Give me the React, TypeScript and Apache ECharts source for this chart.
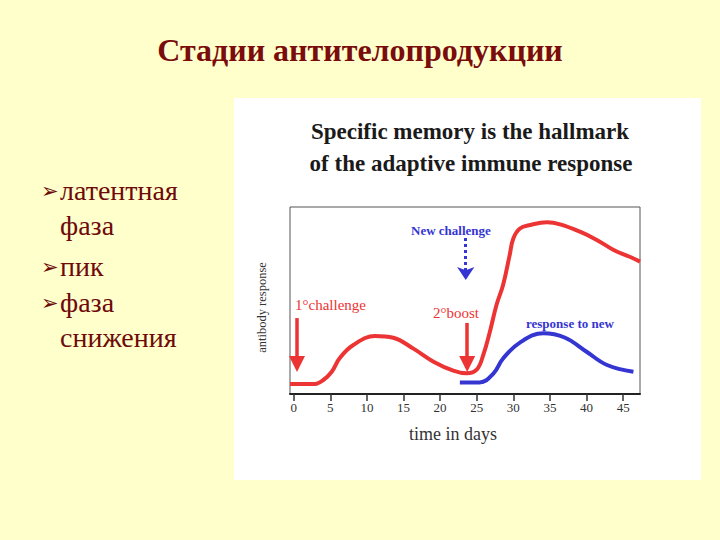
import React, { useEffect, useRef } from "react";
import * as echarts from "echarts";

// ---- data ----
const TITLE = "Стадии антителопродукции";
const BULLETS = [
  { text: "латентная", y: 190, arrow: true },
  { text: "фаза", y: 225, arrow: false },
  { text: "пик", y: 266, arrow: true },
  { text: "фаза", y: 302, arrow: true },
  { text: "снижения", y: 337, arrow: false },
];
const SUBTITLE_1 = "Specific memory is the hallmark";
const SUBTITLE_2 = "of the adaptive immune response";
const X_NAME = "time in days";
const Y_NAME = "antibody response";
const TICKS = [0, 5, 10, 15, 20, 25, 30, 35, 40, 45];

// primary + secondary (boost) response, red
const DAYS_RED = [-0.5, 2.7, 4.05, 5.2, 6.3, 8.15, 11.1, 13.6, 16.3, 19.1, 21.8, 23.6, 25.0, 25.9, 26.8, 27.7, 28.6, 29.5, 30.0, 30.9, 32.3, 34.6, 36.4, 39.1, 41.4, 43.7, 45.9, 47.3];
const RESP_RED = [5.3, 5.3, 7.5, 11.9, 19.3, 26.2, 31.0, 30.1, 24.4, 17.3, 12.5, 11.1, 13.0, 20.9, 33.3, 47.6, 58.3, 74.3, 83.2, 88.5, 90.4, 91.8, 90.7, 86.8, 82.4, 77.0, 73.4, 70.8];

// response to new antigen, blue
const DAYS_BLUE = [22.7, 25.4, 27.3, 28.6, 30.9, 34.1, 37.0, 40.0, 42.8, 46.4];
const RESP_BLUE = [6.2, 6.2, 11.0, 19.0, 27.5, 32.5, 30.2, 22.6, 15.5, 11.9];

// arrows: [day, fromResp, toResp]
const RED_ARROWS = [
  [0.46, 40.6, 16],
  [23.7, 38, 16],
];
const BLUE_ARROW = [23.5, 83.4, 61];

const RED_LABELS = [
  { text: "1°challenge", x: 295, y: 305 },
  { text: "2°boost", x: 433, y: 313 },
];
const BLUE_LABELS = [
  { text: "New challenge", x: 411, y: 230 },
  { text: "response to new", x: 526, y: 323 },
];

const RED = "#ec3434";
const BLUE = "#3535d2";
const MAROON = "#6e0a0a";
const SERIF = "'Liberation Serif', 'Times New Roman', serif";

export default function App() {
  const ref = useRef<HTMLDivElement>(null);
  useEffect(() => {
    if (!ref.current) return;
    const chart = echarts.init(ref.current, null, { renderer: "svg" });

    const graphics: any[] = [
      {
        type: "rect",
        z: -10,
        shape: { x: 234, y: 98, width: 467, height: 382 },
        style: { fill: "#ffffff" },
        silent: true,
      },
      {
        type: "text",
        x: 360,
        y: 50,
        style: {
          text: TITLE,
          fill: "#7a0c0c",
          font: `bold 32px ${SERIF}`,
          textAlign: "center",
          textVerticalAlign: "middle",
        },
      },
      {
        type: "text",
        x: 470,
        y: 131,
        style: {
          text: SUBTITLE_1,
          fill: "#1a1a1a",
          font: `bold 23px ${SERIF}`,
          textAlign: "center",
          textVerticalAlign: "middle",
        },
      },
      {
        type: "text",
        x: 471,
        y: 163,
        style: {
          text: SUBTITLE_2,
          fill: "#1a1a1a",
          font: `bold 23px ${SERIF}`,
          textAlign: "center",
          textVerticalAlign: "middle",
        },
      },
    ];

    BULLETS.forEach((b) => {
      if (b.arrow) {
        graphics.push({
          type: "text",
          x: 41,
          y: b.y + 1,
          style: {
            text: "➢",
            fill: MAROON,
            font: "21px 'DejaVu Sans', sans-serif",
            textAlign: "left",
            textVerticalAlign: "middle",
          },
        });
      }
      graphics.push({
        type: "text",
        x: 60,
        y: b.y,
        style: {
          text: b.text,
          fill: MAROON,
          font: `28px ${SERIF}`,
          textAlign: "left",
          textVerticalAlign: "middle",
        },
      });
    });

    RED_LABELS.forEach((l) =>
      graphics.push({
        type: "text",
        x: l.x,
        y: l.y,
        style: {
          text: l.text,
          fill: RED,
          font: `15px ${SERIF}`,
          textAlign: "left",
          textVerticalAlign: "middle",
        },
      })
    );
    BLUE_LABELS.forEach((l) =>
      graphics.push({
        type: "text",
        x: l.x,
        y: l.y,
        style: {
          text: l.text,
          fill: BLUE,
          font: `bold 13px ${SERIF}`,
          textAlign: "left",
          textVerticalAlign: "middle",
        },
      })
    );

    const option: any = {
      animation: false,
      backgroundColor: "#ffffcc",
      graphic: graphics,
      grid: {
        left: 290,
        top: 207,
        right: 80,
        bottom: 146,
        show: true,
        borderColor: "#555",
        borderWidth: 1,
        backgroundColor: "transparent",
        containLabel: false,
      },
      xAxis: {
        type: "value",
        min: -0.5,
        max: 47.3,
        name: X_NAME,
        nameLocation: "middle",
        nameGap: 31,
        nameTextStyle: { fontFamily: SERIF, fontSize: 18, color: "#333", padding: [0, 24, 0, 0] },
        axisLine: { show: true, lineStyle: { color: "#222", width: 2 } },
        axisTick: { show: true, customValues: TICKS, length: 7, lineStyle: { color: "#333", width: 1.5 } },
        axisLabel: { customValues: TICKS, fontFamily: SERIF, fontSize: 13, color: "#333", margin: 7 },
        splitLine: { show: false },
      },
      yAxis: {
        type: "value",
        min: 0,
        max: 100,
        name: Y_NAME,
        nameLocation: "middle",
        nameGap: 22,
        nameRotate: 90,
        nameTextStyle: { fontFamily: SERIF, fontSize: 12.5, color: "#333", padding: [0, 14, 0, 0] },
        axisLine: { show: false },
        axisTick: { show: false },
        axisLabel: { show: false },
        splitLine: { show: false },
      },
      series: [
        {
          type: "line",
          data: DAYS_RED.map((d, i) => [d, RESP_RED[i]]),
          smooth: 0.4,
          showSymbol: false,
          lineStyle: { color: RED, width: 4 },
          itemStyle: { color: RED },
          markLine: {
            silent: true,
            symbol: ["none", "triangle"],
            symbolSize: 16,
            label: { show: false },
            lineStyle: { color: RED, width: 3.5, type: "solid" },
            data: RED_ARROWS.map((a) => [
              { coord: [a[0], a[1]] },
              { coord: [a[0], a[2]] },
            ]),
          },
        },
        {
          type: "line",
          data: DAYS_BLUE.map((d, i) => [d, RESP_BLUE[i]]),
          smooth: 0.4,
          showSymbol: false,
          lineStyle: { color: BLUE, width: 4 },
          itemStyle: { color: BLUE },
          markLine: {
            silent: true,
            symbol: ["none", "arrow"],
            symbolSize: 13,
            label: { show: false },
            lineStyle: { color: BLUE, width: 3, type: [3, 3] },
            data: [
              [
                { coord: [BLUE_ARROW[0], BLUE_ARROW[1]] },
                { coord: [BLUE_ARROW[0], BLUE_ARROW[2]] },
              ],
            ],
          },
        },
      ],
    };
    chart.setOption(option);
    return () => chart.dispose();
  }, []);
  return (
    <div
      ref={ref}
      style={{ position: "fixed", left: 0, top: 0, width: 720, height: 540 }}
    />
  );
}
